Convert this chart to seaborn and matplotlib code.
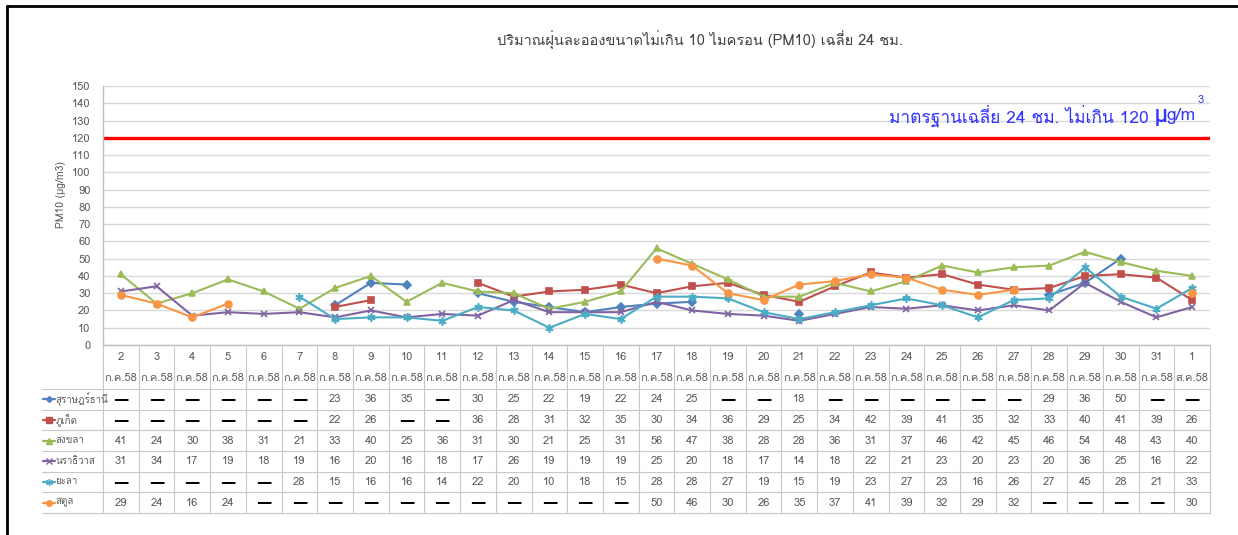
import matplotlib
matplotlib.use("Agg")
import matplotlib.pyplot as plt
import numpy as np
import pandas as pd
import seaborn as sns

N = np.nan
days = [str(d) for d in range(2, 32)] + ["1"]
months = ["ก.ค.58"] * 30 + ["ส.ค.58"]

stations = ["สุราษฎร์ธานี", "ภูเก็ต", "สงขลา", "นราธิวาส", "ยะลา", "สตูล"]
surat = [N, N, N, N, N, N, 23, 36, 35, N, 30, 25, 22, 19, 22, 24, 25, N, N, 18, N,
         N, N, N, N, N, 29, 36, 50, N, N]
phuket = [N, N, N, N, N, N, 22, 26, N, N, 36, 28, 31, 32, 35, 30, 34, 36, 29, 25, 34,
          42, 39, 41, 35, 32, 33, 40, 41, 39, 26]
songkhla = [41, 24, 30, 38, 31, 21, 33, 40, 25, 36, 31, 30, 21, 25, 31, 56, 47, 38, 28, 28, 36,
            31, 37, 46, 42, 45, 46, 54, 48, 43, 40]
narathiwat = [31, 34, 17, 19, 18, 19, 16, 20, 16, 18, 17, 26, 19, 19, 19, 25, 20, 18, 17, 14, 18,
              22, 21, 23, 20, 23, 20, 36, 25, 16, 22]
yala = [N, N, N, N, N, 28, 15, 16, 16, 14, 22, 20, 10, 18, 15, 28, 28, 27, 19, 15, 19,
        23, 27, 23, 16, 26, 27, 45, 28, 21, 33]
satun = [29, 24, 16, 24, N, N, N, N, N, N, N, N, N, N, N, 50, 46, 30, 26, 35, 37,
         41, 39, 32, 29, 32, N, N, N, N, 30]
series = [surat, phuket, songkhla, narathiwat, yala, satun]

colors = ["#4F81BD", "#C0504D", "#9BBB59", "#8064A2", "#4BACC6", "#F79646"]
markers = ["D", "s", "^", "x", (6, 2, 0), "o"]
msizes = [4, 5, 5, 5, 6, 5]

title = "ปริมาณฝุ่นละอองขนาดไม่เกิน 10 ไมครอน (PM10) เฉลี่ย 24 ชม."
std_text = "มาตรฐานเฉลี่ย 24 ชม. ไม่เกิน 120 "

sns.set_style("white")
plt.rcParams["font.family"] = ["Loma", "DejaVu Sans"]

W, H = 1238, 535
def fx(px): return px / W
def fy(py): return 1 - py / H

fig = plt.figure(figsize=(W / 100, H / 100), dpi=100)
ax = fig.add_axes([fx(103), fy(345), fx(1210) - fx(103), fy(86) - fy(345)])
ax_t = fig.add_axes([fx(103), fy(513), fx(1210) - fx(103), fy(345) - fy(513)], sharex=ax)

# lines, broken where a value is missing
for name, vals, c, m, ms in zip(stations, series, colors, markers, msizes):
    s = pd.Series(vals, dtype=float)
    d = pd.DataFrame({"x": range(len(s)), "y": s, "seg": s.isna().cumsum()}).dropna()
    sns.lineplot(data=d, x="x", y="y", units="seg", estimator=None, ax=ax, color=c,
                 marker=m, markersize=ms, markeredgecolor=c, markeredgewidth=1.2,
                 linewidth=1.5, legend=False)

ax.axhline(120, color="#FF0000", lw=2.4, zorder=1)
ax.set_xlim(-0.5, len(days) - 0.5)
ax.set_ylim(0, 150)
ax.set_yticks(range(0, 151, 10))
ax.yaxis.grid(True, color="#D9D9D9", lw=1)
ax.set_axisbelow(True)
ax.tick_params(axis="y", length=0, pad=9, labelsize=8, labelcolor="#595959")
ax.tick_params(axis="x", length=0, labelbottom=False)
ax.set_xlabel("")
ax.set_ylabel("")
for sp in ["top", "right"]:
    ax.spines[sp].set_visible(False)
for sp in ["left", "bottom"]:
    ax.spines[sp].set_color("#BFBFBF")
    ax.spines[sp].set_linewidth(1)

# data table under the chart
ax_t.set_ylim(168, 0)
ax_t.axis("off")
hdr = 44
rh = (168 - hdr) / 6
x_left = -0.5 - (103 - 42) / ((1210 - 103) / len(days))
grid_c = "#C8C8C8"
for k in range(len(days) + 1):
    ax_t.plot([k - 0.5, k - 0.5], [0, 168], color=grid_c, lw=0.8, clip_on=False)
for r in range(7):
    yy = hdr + r * rh
    ax_t.plot([x_left, len(days) - 0.5], [yy, yy], color=grid_c, lw=0.8, clip_on=False)
for i, (d, mo) in enumerate(zip(days, months)):
    ax_t.text(i, 12, d, ha="center", va="center", fontsize=8, color="#595959")
    ax_t.text(i, 33, mo, ha="center", va="center", fontsize=8, color="#595959")
for r, (name, vals, c, m, ms) in enumerate(zip(stations, series, colors, markers, msizes)):
    yc = hdr + (r + 0.5) * rh
    ax_t.plot([x_left + 0.02, x_left + 0.36], [yc, yc], color=c, lw=1.6, clip_on=False)
    ax_t.plot([x_left + 0.19], [yc], color=c, marker=m, markersize=ms - 1,
              markeredgecolor=c, markeredgewidth=1, clip_on=False)
    ax_t.text(x_left + 0.38, yc, name, ha="left", va="center", fontsize=7, color="#595959")
    for i, v in enumerate(vals):
        if np.isnan(v):
            ax_t.text(i, yc, "—", ha="center", va="center", fontsize=11,
                      family="DejaVu Sans", fontweight="bold", color="black")
        else:
            ax_t.text(i, yc, f"{int(v)}", ha="center", va="center", fontsize=8,
                      color="#595959")

# titles and labels
fig.text(fx(700), fy(40), title, ha="center", va="center", fontsize=10.5, color="#404040")
fig.text(fx(61), fy(195), "PM10 (µg/m3)", rotation=90, ha="center", va="center",
         fontsize=7.5, color="#595959")

# standard annotation, built from pieces and right-aligned at x=1196
renderer = fig.canvas.get_renderer()
blue = "#3333FF"
parts = [(std_text, 12.5, "normal"), ("µ", 16, "bold"), ("g/m", 12.5, "normal")]
texts = [fig.text(0, fy(116), s, ha="left", va="center", fontsize=f, fontweight=w, color=blue)
         for s, f, w in parts]
widths = [t.get_window_extent(renderer).width for t in texts]
x = 1196 - sum(widths)
for t, w in zip(texts, widths):
    t.set_x(fx(x))
    x += w
fig.text(fx(x + 2), fy(100), "3", ha="left", va="center", fontsize=8, color=blue)

# outer frame
fig.add_artist(plt.Line2D([fx(7), 1], [fy(6), fy(6)], color="black", lw=2))
fig.add_artist(plt.Line2D([fx(7), fx(7)], [fy(6), 0], color="black", lw=2))

fig.savefig("out.png", dpi=100, facecolor="white")
